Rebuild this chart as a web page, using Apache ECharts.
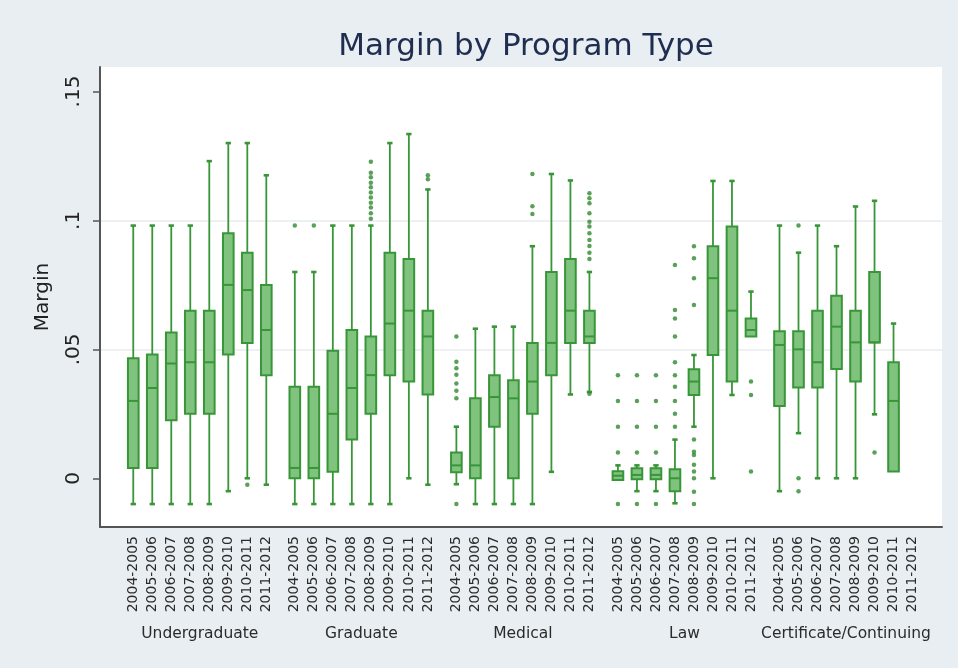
<!DOCTYPE html>
<html>
<head>
<meta charset="utf-8">
<title>Margin by Program Type</title>
<script src="https://cdn.jsdelivr.net/npm/echarts@6/dist/echarts.min.js"></script>
<style>
  html, body { margin: 0; padding: 0; background: #e8eef1; }
  #chart { width: 958px; height: 668px; }
</style>
</head>
<body>
<div id="chart"></div>
<script>
  // academic years inside each program group
  const years = ['2004-2005', '2005-2006', '2006-2007', '2007-2008', '2008-2009', '2009-2010', '2010-2011', '2011-2012']
  const groups = ['Undergraduate', 'Graduate', 'Medical', 'Law', 'Certificate/Continuing']
  const yTicks = [0, 0.05, 0.1, 0.15]

  // box stats per year: [min, q1, median, q3, max]
  const undergrad = [
    [-0.010, 0.004, 0.030, 0.0465, 0.098],
    [-0.010, 0.004, 0.035, 0.048, 0.098],
    [-0.010, 0.0225, 0.0445, 0.0565, 0.098],
    [-0.010, 0.025, 0.045, 0.065, 0.098],
    [-0.010, 0.025, 0.045, 0.065, 0.123],
    [-0.005, 0.048, 0.075, 0.095, 0.130],
    [0.000, 0.0525, 0.073, 0.0875, 0.130],
    [-0.0025, 0.040, 0.0575, 0.075, 0.1175],
  ]
  const graduate = [
    [-0.010, 0.000, 0.004, 0.0355, 0.080],
    [-0.010, 0.000, 0.004, 0.0355, 0.080],
    [-0.010, 0.0025, 0.025, 0.0495, 0.098],
    [-0.010, 0.015, 0.035, 0.0575, 0.098],
    [-0.010, 0.025, 0.040, 0.055, 0.098],
    [-0.010, 0.040, 0.060, 0.0875, 0.130],
    [0.000, 0.0375, 0.065, 0.085, 0.1335],
    [-0.0025, 0.0325, 0.055, 0.065, 0.112],
  ]
  const medical = [
    [-0.0023, 0.0023, 0.005, 0.010, 0.020],
    [-0.010, 0.000, 0.005, 0.031, 0.058],
    [-0.010, 0.020, 0.0315, 0.040, 0.0588],
    [-0.010, 0.000, 0.031, 0.038, 0.0588],
    [-0.010, 0.025, 0.0375, 0.0525, 0.090],
    [0.0025, 0.040, 0.0525, 0.080, 0.118],
    [0.0325, 0.0525, 0.065, 0.085, 0.1155],
    [0.0335, 0.0525, 0.055, 0.065, 0.080],
  ]
  const law = [
    [-0.0007, -0.0007, 0.001, 0.0027, 0.005],
    [-0.005, -0.0004, 0.0013, 0.0039, 0.005],
    [-0.005, -0.0004, 0.0013, 0.0039, 0.005],
    [-0.0097, -0.005, 0.000, 0.0035, 0.015],
    [0.020, 0.0323, 0.0375, 0.0423, 0.0478],
    [0.000, 0.0478, 0.0776, 0.090, 0.1153],
    [0.0323, 0.0375, 0.065, 0.0976, 0.1153],
    [0.055, 0.055, 0.0575, 0.062, 0.0724],
  ]
  const certificate = [
    [-0.005, 0.028, 0.0517, 0.057, 0.098],
    [0.0175, 0.0352, 0.050, 0.057, 0.0875],
    [0.000, 0.0352, 0.045, 0.065, 0.098],
    [0.000, 0.0424, 0.0588, 0.0708, 0.090],
    [0.000, 0.0375, 0.0527, 0.065, 0.1054],
    [0.0248, 0.0527, 0.0527, 0.080, 0.1076],
    [0.0026, 0.0026, 0.030, 0.045, 0.060],
    null,
  ]

  // outside values: [year index, margin]
  const undergradOut = [[6, -0.0025]]
  const graduateOut = [
    [0, 0.098], [1, 0.098],
    [4, 0.1228], [4, 0.1185], [4, 0.1167], [4, 0.1146], [4, 0.1129], [4, 0.1108],
    [4, 0.1089], [4, 0.1069], [4, 0.105], [4, 0.1028], [4, 0.1006],
    [7, 0.1175], [7, 0.116],
  ]
  const medicalOut = [
    [0, 0.055], [0, 0.0452], [0, 0.0427], [0, 0.0401], [0, 0.0368], [0, 0.0339], [0, 0.031], [0, -0.010],
    [4, 0.118], [4, 0.1055], [4, 0.1025],
    [7, 0.1105], [7, 0.1086], [7, 0.1067], [7, 0.1028], [7, 0.0995], [7, 0.0976],
    [7, 0.095], [7, 0.0924], [7, 0.0901], [7, 0.0875], [7, 0.085], [7, 0.0328],
  ]
  const lawOut = [
    [0, 0.040], [0, 0.030], [0, 0.020], [0, 0.010], [0, -0.010],
    [1, 0.040], [1, 0.030], [1, 0.020], [1, 0.010], [1, -0.010],
    [2, 0.040], [2, 0.030], [2, 0.020], [2, 0.010], [2, -0.010],
    [3, 0.0827], [3, 0.0653], [3, 0.062], [3, 0.055], [3, 0.045], [3, 0.040],
    [3, 0.0355], [3, 0.030], [3, 0.025], [3, 0.020],
    [4, 0.090], [4, 0.0853], [4, 0.0776], [4, 0.0672],
    [4, 0.015], [4, 0.0103], [4, 0.009], [4, 0.0052], [4, 0.0026], [4, 0.000], [4, -0.0052], [4, -0.010],
    [7, 0.0375], [7, 0.0323], [7, 0.0026],
  ]
  const certificateOut = [[1, 0.098], [1, 0.000], [1, -0.005], [5, 0.010]]

  const statsByGroup = [undergrad, graduate, medical, law, certificate]
  const outByGroup = [undergradOut, graduateOut, medicalOut, lawOut, certificateOut]
  const groupStep = 8.5 // 8 boxes + 1.5 slot gap
  const stroke = '#389638',
    fill = '#7fc37f'

  let boxData = [],
    outData = []
  statsByGroup.forEach((stats, g) => {
    stats.forEach((s, j) => {
      if (s) boxData.push([g * groupStep + j].concat(s))
    })
  })
  outByGroup.forEach((list, g) => {
    list.forEach(([j, v]) => outData.push([g * groupStep + j, v]))
  })

  const near = (a, b) => Math.abs(a - b) < 1e-6

  function yearLabel(v) {
    for (let g = 0; g < groups.length; g++) {
      let j = v - g * groupStep
      if (j > -0.01 && j < 7.01 && near(j, Math.round(j))) return years[Math.round(j)]
    }
    return ''
  }

  function groupLabel(v) {
    for (let g = 0; g < groups.length; g++) {
      if (near(v, g * groupStep + 3.5)) return groups[g]
    }
    return ''
  }

  function renderBox(params, api) {
    let x = api.value(0),
      lo = api.coord([x, api.value(1)]),
      q1 = api.coord([x, api.value(2)]),
      md = api.coord([x, api.value(3)]),
      q3 = api.coord([x, api.value(4)]),
      hi = api.coord([x, api.value(5)]),
      cx = lo[0],
      half = api.coord([x + 0.28, 0])[0] - cx,
      cap = api.coord([x + 0.14, 0])[0] - cx
    let line = (x1, y1, x2, y2, w) => ({
      type: 'line',
      shape: { x1, y1, x2, y2 },
      style: { stroke, lineWidth: w },
    })
    let kids = [line(cx, hi[1], cx, lo[1], 1.8)]
    if (api.value(5) > api.value(4)) kids.push(line(cx - cap, hi[1], cx + cap, hi[1], 2.6))
    if (api.value(1) < api.value(2)) kids.push(line(cx - cap, lo[1], cx + cap, lo[1], 2.6))
    kids.push({
      type: 'rect',
      shape: { x: cx - half, y: q3[1], width: half * 2, height: Math.max(q1[1] - q3[1], 1) },
      style: { fill, stroke, lineWidth: 2 },
    })
    kids.push(line(cx - half, md[1], cx + half, md[1], 2))
    return { type: 'group', children: kids }
  }

  const font = 'DejaVu Sans'
  let chart = echarts.init(document.getElementById('chart'))
  chart.setOption({
    backgroundColor: '#e8eef1',
    animation: false,
    title: {
      text: 'Margin by Program Type',
      left: 521,
      top: 26,
      textAlign: 'center',
      textStyle: { fontFamily: font, fontSize: 31, fontWeight: 'normal', color: '#1f2d50' },
    },
    grid: {
      left: 100,
      right: 16,
      top: 67,
      bottom: 141,
      show: true,
      backgroundColor: '#ffffff',
      borderWidth: 0,
    },
    xAxis: [
      {
        type: 'value',
        min: -1.75,
        max: 42.55,
        interval: 0.25,
        axisLine: { onZero: false, lineStyle: { color: '#555', width: 2 } },
        axisTick: { show: false },
        splitLine: { show: false },
        axisLabel: { rotate: 90, margin: 9, fontFamily: font, fontSize: 14, color: '#2b2b2b', formatter: yearLabel },
      },
      {
        type: 'value',
        min: -1.75,
        max: 42.55,
        interval: 0.25,
        position: 'bottom',
        offset: 91,
        axisLine: { show: false, onZero: false },
        axisTick: { show: false },
        splitLine: { show: false },
        axisLabel: { fontFamily: font, fontSize: 15.5, color: '#2b2b2b', formatter: groupLabel },
      },
    ],
    yAxis: {
      type: 'value',
      min: -0.0189,
      max: 0.1595,
      splitNumber: 4,
      name: 'Margin',
      nameLocation: 'middle',
      nameGap: 47,
      nameRotate: 90,
      nameTextStyle: { fontFamily: font, fontSize: 20, color: '#222' },
      axisLine: { show: true, onZero: false, lineStyle: { color: '#555', width: 2 } },
      axisTick: { show: true, length: 7, customValues: yTicks, lineStyle: { color: '#555', width: 1.5 } },
      axisLabel: {
        rotate: 90,
        margin: 16,
        fontFamily: font,
        fontSize: 20,
        color: '#222',
        customValues: yTicks,
        formatter: (v) => (v === 0 ? '0' : String(+v.toFixed(2)).replace('0.', '.')),
      },
      splitLine: { show: true, showMinLine: false, showMaxLine: false, lineStyle: { color: '#e8edf0', width: 1.5 } },
    },
    series: [
      {
        type: 'custom',
        renderItem: renderBox,
        encode: { x: 0, y: [1, 2, 3, 4, 5] },
        data: boxData,
        z: 2,
      },
      {
        type: 'scatter',
        data: outData,
        symbol: 'circle',
        symbolSize: 4.5,
        itemStyle: { color: '#2f8a2f' },
        z: 3,
      },
    ],
  })
</script>
</body>
</html>
